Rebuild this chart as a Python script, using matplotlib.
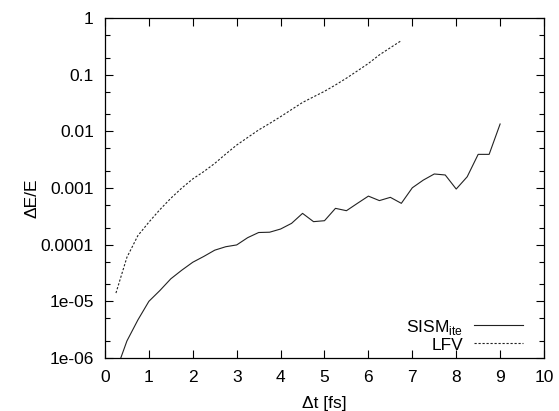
import matplotlib
matplotlib.use("Agg")
import matplotlib.pyplot as plt
from matplotlib.ticker import FixedLocator, FixedFormatter, LogLocator, NullFormatter

plt.rcParams['font.family'] = ['Liberation Sans', 'DejaVu Sans']
plt.rcParams['mathtext.fontset'] = 'custom'
plt.rcParams['mathtext.rm'] = 'Liberation Sans'

# SISM_ite data
sism_dt = [0.25, 0.5, 0.75, 1.0, 1.25, 1.5, 1.75, 2.0, 2.25, 2.5, 2.75, 3.0,
           3.25, 3.5, 3.75, 4.0, 4.25, 4.5, 4.75, 5.0, 5.25, 5.5, 5.75, 6.0,
           6.25, 6.5, 6.75, 7.0, 7.25, 7.5, 7.75, 8.0, 8.25, 8.5, 8.75, 9.0]
sism_de = [5.8e-7, 2.0e-6, 4.7e-6, 1.0e-5, 1.55e-5, 2.5e-5, 3.55e-5, 4.9e-5,
           6.2e-5, 8.0e-5, 9.2e-5, 9.9e-5, 1.33e-4, 1.64e-4, 1.66e-4, 1.89e-4,
           2.38e-4, 3.57e-4, 2.55e-4, 2.65e-4, 4.38e-4, 3.98e-4, 5.37e-4, 7.2e-4,
           6.0e-4, 6.85e-4, 5.37e-4, 1.01e-3, 1.38e-3, 1.77e-3, 1.70e-3, 9.6e-4,
           1.58e-3, 3.93e-3, 3.93e-3, 1.35e-2]

# LFV data
lfv_dt = [0.25, 0.375, 0.5, 0.625, 0.75, 0.875, 1.0, 1.25, 1.5, 1.75, 2.0, 2.25,
          2.5, 2.75, 3.0, 3.25, 3.5, 3.75, 4.0, 4.25, 4.5, 4.75, 5.0, 5.25,
          5.5, 5.75, 6.0, 6.25, 6.5, 6.75]
lfv_de = [1.4e-5, 2.9e-5, 6.0e-5, 9.3e-5, 1.45e-4, 1.9e-4, 2.5e-4, 4.15e-4,
          6.6e-4, 1.0e-3, 1.45e-3, 1.95e-3, 2.72e-3, 3.98e-3, 5.74e-3, 7.8e-3,
          1.06e-2, 1.38e-2, 1.82e-2, 2.43e-2, 3.24e-2, 4.07e-2, 5.1e-2, 6.6e-2,
          8.7e-2, 0.117, 0.158, 0.224, 0.30, 0.40]

x_ticks = [0, 1, 2, 3, 4, 5, 6, 7, 8, 9, 10]
x_labels = ['0', '1', '2', '3', '4', '5', '6', '7', '8', '9', '10']
y_ticks = [1e-6, 1e-5, 1e-4, 1e-3, 1e-2, 1e-1, 1]
y_labels = ['1e-06', '1e-05', '0.0001', '0.001', '0.01', '0.1', '1']

fig = plt.figure(figsize=(5.59, 4.11), dpi=100)
ax = fig.add_axes([0.1878, 0.129, 0.7854, 0.827])

ax.plot(sism_dt, sism_de, color='#222222', lw=0.8, label='SISM$_\\mathregular{ite}$')
ax.plot(lfv_dt, lfv_de, color='#222222', lw=0.8, linestyle=(0, (2.0, 1.6)), label='LFV')

ax.set_yscale('log')
ax.set_xlim(0, 10)
ax.set_ylim(1e-6, 1)

ax.xaxis.set_major_locator(FixedLocator(x_ticks))
ax.xaxis.set_major_formatter(FixedFormatter(x_labels))
ax.yaxis.set_major_locator(FixedLocator(y_ticks))
ax.yaxis.set_major_formatter(FixedFormatter(y_labels))
ax.yaxis.set_minor_locator(LogLocator(base=10, subs=[2, 5]))
ax.yaxis.set_minor_formatter(NullFormatter())

ax.tick_params(which='both', direction='in', top=True, right=True, labelsize=12.5)
ax.tick_params(axis='x', which='major', pad=9)
ax.tick_params(axis='y', which='major', pad=8)
ax.tick_params(which='major', length=6, width=0.8)
ax.tick_params(which='minor', length=3.5, width=0.8)
for s in ax.spines.values():
    s.set_linewidth(0.9)

ax.set_xlabel('Δt [fs]', fontsize=12.5, va='center')
ax.xaxis.set_label_coords(0.5, -0.135)
ax.set_ylabel('ΔE/E', fontsize=12.5, va='center')
ax.yaxis.set_label_coords(-0.166, 0.47)

ax.legend(loc='lower right', frameon=False, markerfirst=False, fontsize=12.5,
          handlelength=2.8, handletextpad=0.65, labelspacing=0.05,
          borderaxespad=0.0, borderpad=0.0, bbox_to_anchor=(0.952, 0.016))

fig.savefig('out.png', dpi=100)
